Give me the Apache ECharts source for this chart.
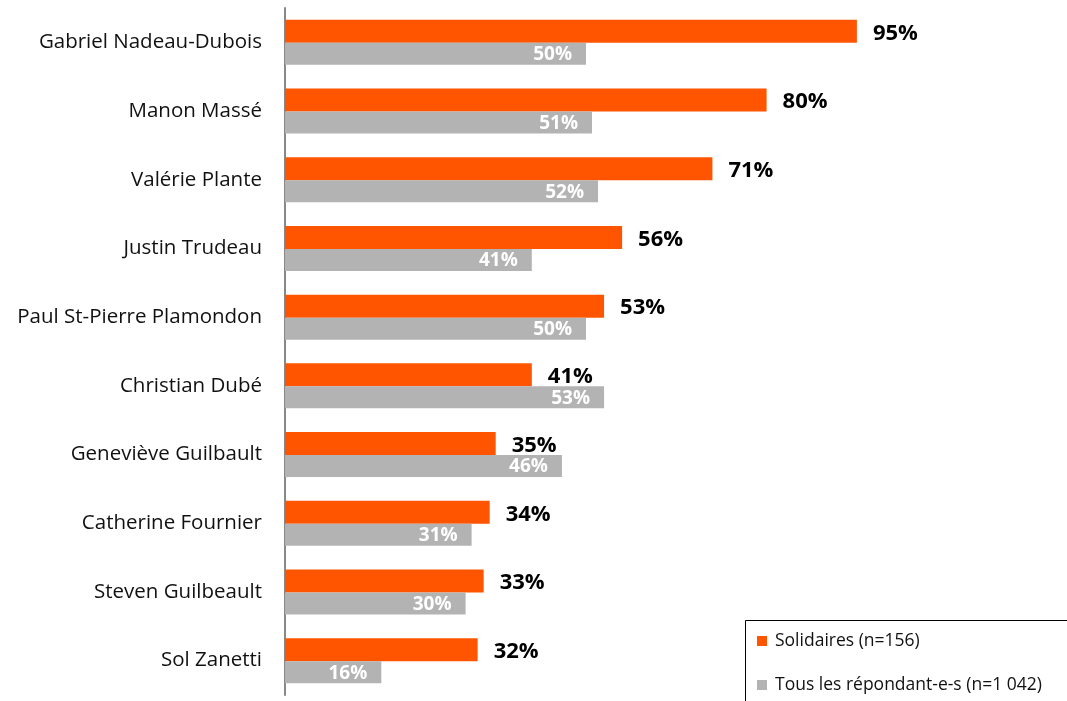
<!DOCTYPE html>
<html>
<head>
<meta charset="utf-8">
<style>
  html, body { margin: 0; padding: 0; background: #fff; }
  #main { width: 1067px; height: 701px; }
</style>
</head>
<body>
<div id="main"></div>
<script src="https://cdn.jsdelivr.net/npm/echarts@6/dist/echarts.min.js"></script>
<script>
var categories = ['Gabriel Nadeau-Dubois', 'Manon Massé', 'Valérie Plante', 'Justin Trudeau',
  'Paul St-Pierre Plamondon', 'Christian Dubé', 'Geneviève Guilbault', 'Catherine Fournier',
  'Steven Guilbeault', 'Sol Zanetti'];
var solidaires = [95, 80, 71, 56, 53, 41, 35, 34, 33, 32];
var tous = [50, 51, 52, 41, 50, 53, 46, 31, 30, 16];
var seriesNames = ['Solidaires (n=156)', 'Tous les répondant-e-s (n=1 042)'];

var myChart = echarts.init(document.getElementById('main'));
var fontFamily = '"Open Sans", Lato, sans-serif';

option = {
  animation: false,
  textStyle: { fontFamily: fontFamily },
  grid: { left: 285, top: 8, width: 602, height: 687 },
  // cadre de la légende (coupé par le bord de l'image)
  graphic: [{
    type: 'rect',
    left: 745,
    top: 620,
    shape: { width: 360, height: 120 },
    style: { fill: '#fff', stroke: '#000', lineWidth: 1 },
    z: 0
  }],
  legend: {
    orient: 'vertical',
    left: 757,
    top: 632,
    padding: 0,
    itemGap: 26,
    itemWidth: 10,
    itemHeight: 10,
    icon: 'rect',
    z: 10,
    textStyle: { fontSize: 17.5, color: '#111', fontFamily: fontFamily, padding: [0, 0, 0, 3] },
    data: seriesNames
  },
  xAxis: {
    type: 'value',
    min: 0,
    max: 100,
    show: false
  },
  yAxis: {
    type: 'category',
    inverse: true,
    data: categories,
    axisLine: { show: true, lineStyle: { color: '#888', width: 2 } },
    axisTick: { show: false },
    axisLabel: { fontSize: 20.5, color: '#111', margin: 23, fontFamily: fontFamily }
  },
  series: [
    {
      name: seriesNames[0],
      type: 'bar',
      barWidth: 23,
      barGap: '0%',
      itemStyle: { color: '#FF5500' },
      label: {
        show: true,
        position: 'right',
        distance: 16,
        offset: [0, 2],
        formatter: '{c}%',
        fontSize: 22,
        fontWeight: 'bold',
        color: '#000',
        fontFamily: fontFamily
      },
      data: solidaires
    },
    {
      name: seriesNames[1],
      type: 'bar',
      barWidth: 22,
      barGap: '0%',
      itemStyle: { color: '#B3B3B3' },
      label: {
        show: true,
        position: 'insideRight',
        distance: 14,
        offset: [0, 1],
        formatter: '{c}%',
        fontSize: 19,
        fontWeight: 'bold',
        color: '#fff',
        fontFamily: fontFamily
      },
      data: tous
    }
  ]
};

myChart.setOption(option);
</script>
</body>
</html>
